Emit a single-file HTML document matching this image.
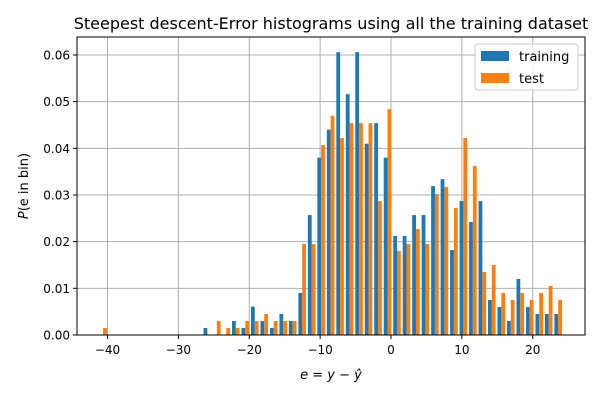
<!DOCTYPE html>
<html><head><meta charset="utf-8"><style>
html,body{margin:0;padding:0;background:#fff;}
svg{display:block;font-family:"DejaVu Sans","Liberation Sans",sans-serif;}
</style></head><body>
<svg id="chart" width="600" height="400" viewBox="0 0 600 400">
<rect x="0" y="0" width="600" height="400" fill="#fff"/>
<text x="331" y="29" text-anchor="middle" font-size="16" fill="#000">Steepest descent-Error histograms using all the training dataset</text>
<g id="grid"></g>
<g id="bars"></g>
<rect x="77" y="37" width="508" height="298" fill="none" stroke="#000" stroke-width="1"/>
<g id="ticks"></g>
<text x="331" y="379" text-anchor="middle" font-size="13" font-style="italic">e = y − ŷ</text>
<text transform="translate(28,186) rotate(-90)" text-anchor="middle" font-size="13"><tspan font-style="italic">P</tspan>(e in bin)</text>
<g>
<rect x="475" y="44" width="103" height="46" rx="3" fill="#fff" fill-opacity="0.8" stroke="#ccc"/>
<rect x="481" y="51" width="28" height="10" fill="#1f77b4"/>
<text x="519" y="61" font-size="13">training</text>
<rect x="481" y="73" width="28" height="10" fill="#ff7f0e"/>
<text x="519" y="83" font-size="13">test</text>
</g>
</svg>
<script>
const binStart = -41.3;
const binWidth = 1.338;
const training = [0,0,0,0,0,0,0,0,0,0,0,0.0015,0,0,0.003,0.0015,0.0061,0.003,0.0015,0.0045,0.003,0.009,0.0257,0.038,0.044,0.0606,0.0516,0.0606,0.041,0.0454,0.038,0.0212,0.0212,0.0257,0.0257,0.0319,0.0334,0.0182,0.0287,0.0242,0.0287,0.0075,0.006,0.003,0.012,0.006,0.0045,0.0045,0.0045];
const test = [0.0015,0,0,0,0,0,0,0,0,0,0,0,0.003,0.0015,0.0015,0.003,0.003,0.0045,0.003,0.003,0.003,0.0195,0.0195,0.0407,0.047,0.0422,0.0454,0.0454,0.0454,0.0287,0.0484,0.018,0.0195,0.0227,0.0195,0.0302,0.0317,0.0272,0.0422,0.0362,0.0135,0.015,0.009,0.0075,0.009,0.0075,0.009,0.0105,0.0075];
const xTicks = [-40,-30,-20,-10,0,10,20];
const yTicks = [0,0.01,0.02,0.03,0.04,0.05,0.06];
const yTickLabels = ["0.00","0.01","0.02","0.03","0.04","0.05","0.06"];

const NS = "http://www.w3.org/2000/svg";
const X = v => 391 + v * 7.087;
const Y = v => 335 - v * 4667;
function mk(tag, attrs, parent){const e=document.createElementNS(NS,tag);for(const k in attrs)e.setAttribute(k,attrs[k]);parent.appendChild(e);return e;}
const grid=document.getElementById('grid'), bars=document.getElementById('bars'), ticks=document.getElementById('ticks');
xTicks.forEach(t=>{
  const g=mk('line',{x1:X(t),x2:X(t),y1:37,y2:335,stroke:'#b0b0b0','stroke-width':1},grid);
  
  
  const tk=mk('line',{x1:X(t),x2:X(t),y1:335,y2:339,stroke:'#000'},ticks);
  
  
  const tx=mk('text',{x:X(t),y:354,'text-anchor':'middle','font-size':12},ticks);
  tx.textContent=(t<0?'−'+(-t):String(t));
  
  
});
yTicks.forEach((t,i)=>{
  const g=mk('line',{x1:77,x2:585,y1:Y(t),y2:Y(t),stroke:'#b0b0b0','stroke-width':1},grid);
  
  
  const tk=mk('line',{x1:73,x2:77,y1:Y(t),y2:Y(t),stroke:'#000'},ticks);
  
  
  const tx=mk('text',{x:70,y:Y(t)+4.5,'text-anchor':'end','font-size':12},ticks);
  tx.textContent=yTickLabels[i];
  
  
});
const bw = binWidth*0.4;
function drawSeries(vals,color,off,name){
  vals.forEach((v,k)=>{
    if(v<=0)return;
    const x0=binStart+k*binWidth+binWidth*0.1+off*bw;
    const r=mk('rect',{x:X(x0),y:Y(v),width:X(x0+bw)-X(x0),height:Y(0)-Y(v),fill:color},bars);
    
    
  });
}
drawSeries(training,'#1f77b4',0,'bar-training');
drawSeries(test,'#ff7f0e',1,'bar-test');
</script>
</body></html>
